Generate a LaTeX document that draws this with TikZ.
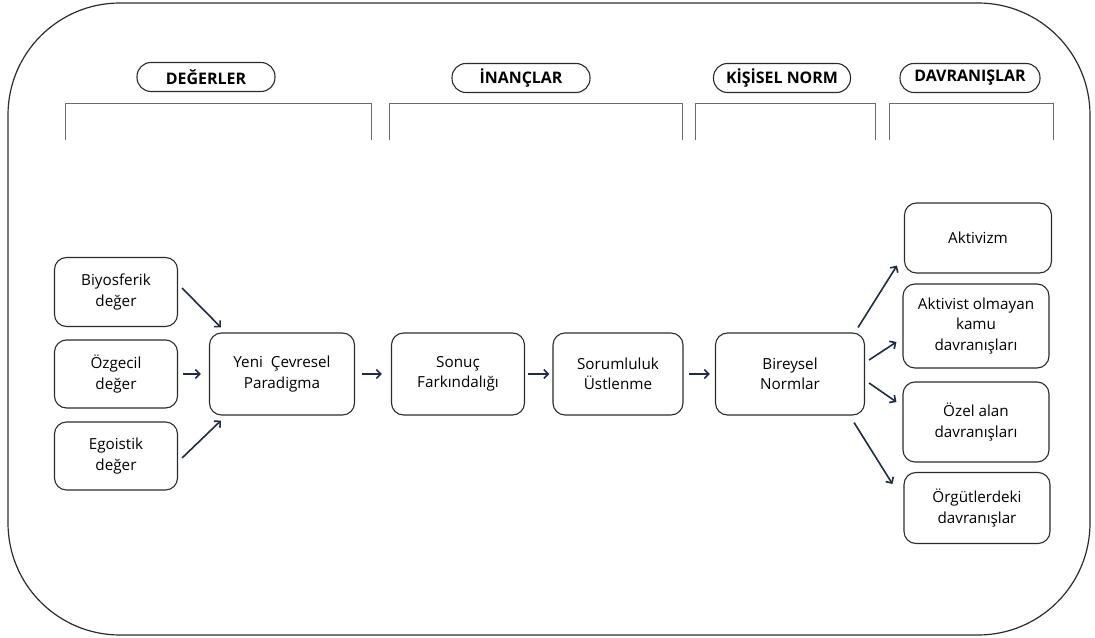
\documentclass[tikz,border=0pt]{standalone}
\usepackage{fontspec}
\setmainfont{Open Sans}
\usetikzlibrary{arrows.meta,calc}
\definecolor{okmavi}{HTML}{1E2A48}
\definecolor{cizgi}{HTML}{2B2B2B}
\definecolor{kanca}{HTML}{6A6A6A}
\tikzset{
  kutu/.style={draw=cizgi, line width=1.1bp, rounded corners=12bp, align=center,
    inner sep=0pt, font=\fontsize{15.3}{20.5}\selectfont},
  baslik/.style={draw=cizgi, line width=1.1bp, rounded corners=14bp, minimum height=29bp,
    inner sep=0pt, font=\bfseries\fontsize{16}{18}\selectfont},
  ok/.style={draw=okmavi, line width=1.6bp, -{Straight Barb[length=4.5bp,width=9bp]}},
}
\begin{document}
\begin{tikzpicture}[x=1bp, y=-1bp]
                \useasboundingbox (0,0) rectangle (1095,638);
                % dis cerceve
                \draw[cizgi, line width=1.2bp, rounded corners=112bp] (8,3) rectangle (1090,635);

                % basliklar
                \node[baslik, minimum width=138bp] (hdeg) at (206,77) {DEĞERLER};
                \node[baslik, minimum width=138bp] (hinan) at (521,78) {İNANÇLAR};
                \node[baslik, minimum width=137bp] (hnorm) at (782,78) {KİŞİSEL NORM};
                \node[baslik, minimum width=140bp] (hdav) at (970,78) {DAVRANIŞLAR};
                \foreach \a/\b in {65/371, 389/682, 695/875, 889/1053}{
                    \draw[kanca, line width=1bp] (\a,140) -- (\a,104) -- (\b,104) -- (\b,140);
                }

                % kutular
                \node[kutu, minimum width=123bp, minimum height=69bp] (bio) at (116,292) {Biyosferik\\değer};
                \node[kutu, minimum width=123bp, minimum height=68bp] (ozg) at (116,374) {Özgecil\\değer};
                \node[kutu, minimum width=123bp, minimum height=68bp] (ego) at (116,456) {Egoistik\\değer};
                \node[kutu, minimum width=145bp, minimum height=82bp] (ycp) at (282,374) {Yeni \ Çevresel\\Paradigma};
                \node[kutu, minimum width=133bp, minimum height=82bp] (son) at (458,374) {Sonuç\\Farkındalığı};
                \node[kutu, minimum width=130bp, minimum height=82bp] (sor) at (618,374) {Sorumluluk\\Üstlenme};
                \node[kutu, minimum width=149bp, minimum height=82bp] (bir) at (790,374) {Bireysel\\Normlar};
                \node[kutu, minimum width=147bp, minimum height=70bp] (akt) at (978,238) {Aktivizm};
                \node[kutu, minimum width=146bp, minimum height=84bp] (kamu) at (976,326) {Aktivist olmayan\\kamu\\davranışları};
                \node[kutu, minimum width=146bp, minimum height=80bp] (ozel) at (976,422) {Özel alan\\davranışları};
                \node[kutu, minimum width=146bp, minimum height=71bp] (org) at (977,508) {Örgütlerdeki\\davranışlar};

                % oklar
                \draw[ok] ($(bio.east)+(4,-4)$) -- ($(ycp.north west)+(12,-5)$);
                \draw[ok] ($(ozg.east)+(5,0)$) -- ($(ycp.west)+(-8,0)$);
                \draw[ok] ($(ego.east)+(4,2)$) -- ($(ycp.south west)+(12,5)$);
                \draw[ok, shorten <=7bp, shorten >=9bp] (ycp) -- (son);
                \draw[ok, shorten <=3bp, shorten >=3bp] (son) -- (sor);
                \draw[ok, shorten <=5bp, shorten >=5bp] (sor) -- (bir);
                \draw[ok] ($(bir.north east)+(-7,-5)$) -- ($(akt.south west)+(-7,-8)$);
                \draw[ok] ($(bir.east)+(4,-14)$) -- ($(kamu.west)+(-6,16)$);
                \draw[ok] ($(bir.east)+(4,9)$) -- ($(ozel.west)+(-6,-20)$);
                \draw[ok] ($(bir.south east)+(-11,7)$) -- ($(org.north west)+(-11,12)$);
            \end{tikzpicture}
\end{document}
